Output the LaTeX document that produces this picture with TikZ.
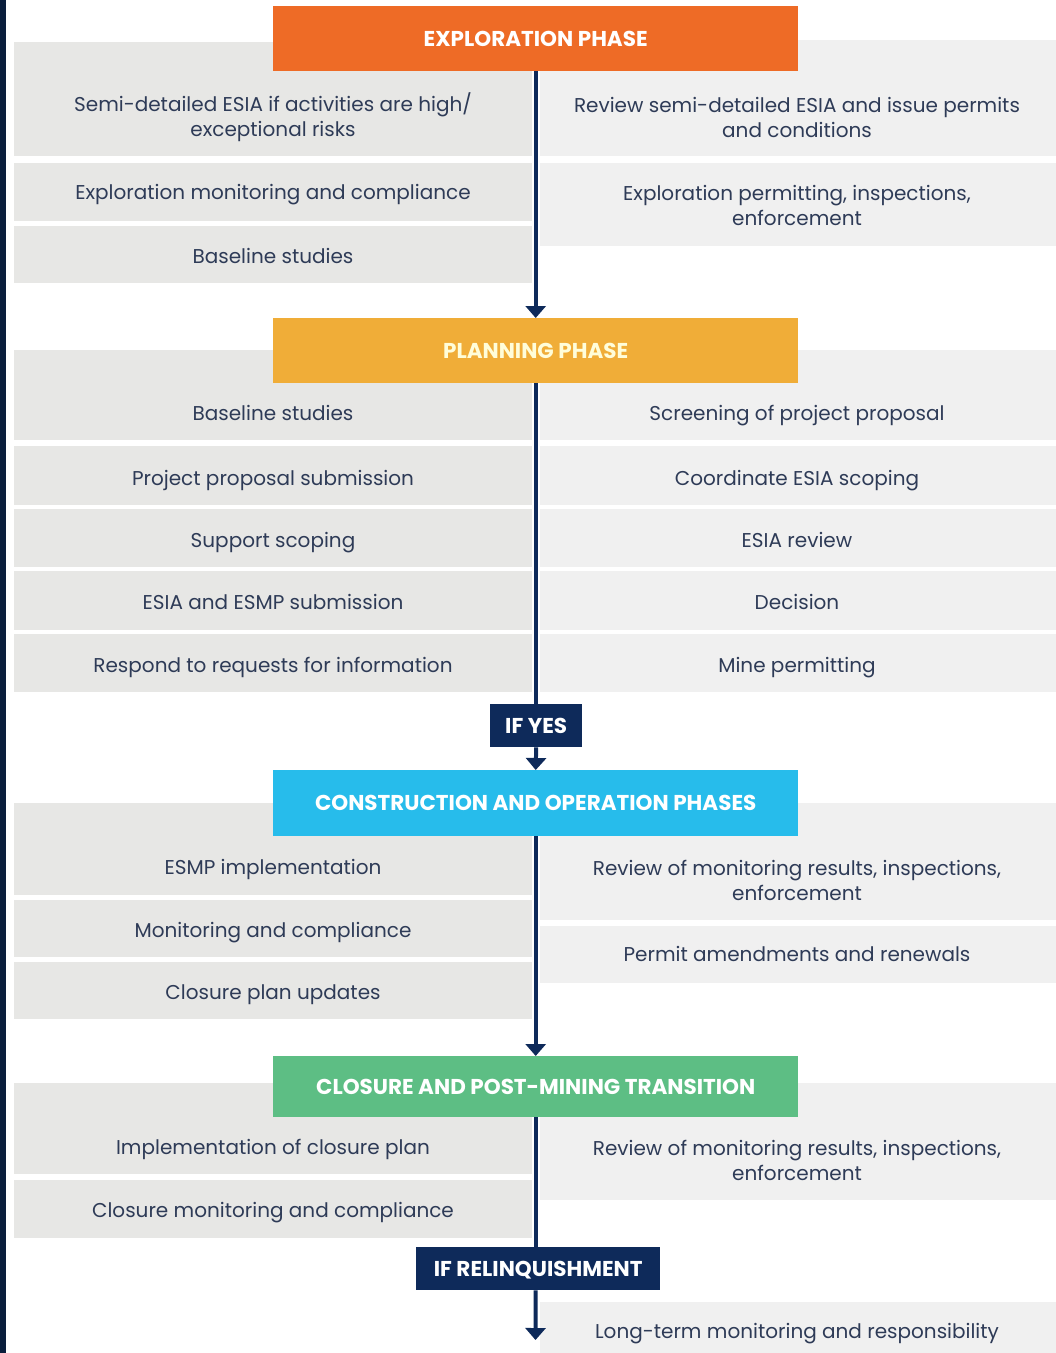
\documentclass[tikz,border=0pt]{standalone}
\usepackage{fontspec}
\setmainfont{Poppins}
\usetikzlibrary{arrows.meta}
\definecolor{navy}{HTML}{0E2A5A}
\definecolor{strip}{HTML}{0A1E3C}
\definecolor{lgray}{HTML}{E7E7E5}
\definecolor{rgray}{HTML}{F0F0F0}
\definecolor{tcol}{HTML}{2E3B57}
\definecolor{corange}{HTML}{EE6B26}
\definecolor{cyellow}{HTML}{F0AD38}
\definecolor{ccyan}{HTML}{27BCEB}
\definecolor{cgreen}{HTML}{5DBE84}
\begin{document}
\begin{tikzpicture}[x=1pt,y=-1pt,
  lbox/.style={fill=lgray, inner sep=0pt, minimum width=518pt, anchor=north west},
  rbox/.style={fill=rgray, inner sep=0pt, minimum width=516pt, anchor=north west},
  hdr/.style={inner sep=0pt, minimum width=525pt, anchor=north west, text=white,
    text height=15.5pt, text depth=0pt,
    font=\fontsize{21.5}{24}\selectfont\bfseries},
  txt/.style={text=tcol, font=\fontsize{20}{25}\selectfont, align=center, inner sep=0pt},
  txtone/.style={txt, text height=14.5pt, text depth=4pt, yshift=-2pt},
  cond/.style={fill=navy, text=white, inner sep=0pt, anchor=north west,
    text height=15.5pt, text depth=0pt,
    font=\fontsize{21.5}{24}\selectfont\bfseries},
  trunk/.style={draw=navy, line width=4pt},
  flow/.style={trunk, -{Triangle[width=20pt,length=12pt]}}]
\useasboundingbox (0,0) rectangle (1056,1353);
\fill[white] (0,0) rectangle (1056,1353);
\fill[strip] (0,0) rectangle (6,1353);

% ---------- Exploration ----------
\node[lbox, minimum height=114pt] (e1) at (14,42) {};
\node[lbox, minimum height=58pt] (e2) at (14,163) {};
\node[lbox, minimum height=57pt] (e3) at (14,226) {};
\node[rbox, minimum height=116pt] (er1) at (540,40) {};
\node[rbox, minimum height=83pt] (er2) at (540,163) {};
\node[txt] (te1) at (273,117) {Semi-detailed ESIA if activities are high/\\exceptional risks};
\node[txtone] (te2) at (273,192) {Exploration monitoring and compliance};
\node[txtone] (te3) at (273,256) {Baseline studies};
\node[txt] (ter1) at (797,117) {Review semi-detailed ESIA and issue permits\\and conditions};
\node[txt] (ter2) at (797,205) {Exploration permitting, inspections,\\enforcement};

% ---------- Planning ----------
\node[lbox, minimum height=90pt] (p1) at (14,350) {};
\node[lbox, minimum height=59pt] (p2) at (14,446) {};
\node[lbox, minimum height=58pt] (p3) at (14,509) {};
\node[lbox, minimum height=59pt] (p4) at (14,571) {};
\node[lbox, minimum height=58pt] (p5) at (14,634) {};
\node[rbox, minimum height=90pt] (pr1) at (540,350) {};
\node[rbox, minimum height=59pt] (pr2) at (540,446) {};
\node[rbox, minimum height=58pt] (pr3) at (540,509) {};
\node[rbox, minimum height=59pt] (pr4) at (540,571) {};
\node[rbox, minimum height=58pt] (pr5) at (540,634) {};
\node[txtone] (tp1) at (273,413) {Baseline studies};
\node[txtone] (tp2) at (273,478) {Project proposal submission};
\node[txtone] (tp3) at (273,540) {Support scoping};
\node[txtone] (tp4) at (273,602) {ESIA and ESMP submission};
\node[txtone] (tp5) at (273,665) {Respond to requests for information};
\node[txtone] (tpr1) at (797,413) {Screening of project proposal};
\node[txtone] (tpr2) at (797,478) {Coordinate ESIA scoping};
\node[txtone] (tpr3) at (797,540) {ESIA review};
\node[txtone] (tpr4) at (797,602) {Decision};
\node[txtone] (tpr5) at (797,665) {Mine permitting};

% ---------- Construction ----------
\node[lbox, minimum height=92pt] (c1) at (14,803) {};
\node[lbox, minimum height=57pt] (c2) at (14,900) {};
\node[lbox, minimum height=57pt] (c3) at (14,962) {};
\node[rbox, minimum height=117pt] (cr1) at (540,803) {};
\node[rbox, minimum height=57pt] (cr2) at (540,926) {};
\node[txtone] (tc1) at (273,867) {ESMP implementation};
\node[txtone] (tc2) at (273,930) {Monitoring and compliance};
\node[txtone] (tc3) at (273,992) {Closure plan updates};
\node[txt] (tcr1) at (797,880) {Review of monitoring results, inspections,\\enforcement};
\node[txtone] (tcr2) at (797,954) {Permit amendments and renewals};

% ---------- Closure ----------
\node[lbox, minimum height=91pt] (k1) at (14,1083) {};
\node[lbox, minimum height=58pt] (k2) at (14,1180) {};
\node[rbox, minimum height=117pt] (kr1) at (540,1083) {};
\node[txtone] (tk1) at (273,1147) {Implementation of closure plan};
\node[txtone] (tk2) at (273,1210) {Closure monitoring and compliance};
\node[txt] (tkr1) at (797,1160) {Review of monitoring results, inspections,\\enforcement};

\node[rbox, minimum height=51pt] (lt) at (540,1302) {};
\node[txtone] (tlt) at (797,1331) {Long-term monitoring and responsibility};

% ---------- Headers ----------
\node[hdr, fill=corange, minimum height=65pt] (h1) at (273,6) {EXPLORATION PHASE};
\node[hdr, fill=cyellow, minimum height=65pt, text=white!85!yellow] (h2) at (273,318) {PLANNING PHASE};
\node[hdr, fill=ccyan, minimum height=66pt] (h3) at (273,770) {CONSTRUCTION AND OPERATION PHASES};
\node[hdr, fill=cgreen, minimum height=61pt] (h4) at (273,1056) {CLOSURE AND POST-MINING TRANSITION};

% ---------- Trunk ----------
\draw[flow] (h1.south) -- (h2.north);
\draw[trunk] (h2.south) -- ++(0,321) coordinate (yestop);
\draw[flow] (h3.south) -- (h4.north);
\draw[trunk] (h4.south) -- ++(0,130) coordinate (reltop);
\coordinate (endpt) at (535.5,1340);

\node[cond, minimum width=92pt, minimum height=43pt] (ify) at (490,704) {IF YES};
\node[cond, minimum width=244pt, minimum height=43pt] (rel) at (416,1247) {IF RELINQUISHMENT};
\draw[flow] (ify.south) -- (h3.north);
\draw[flow] (rel.south -| h4.south) -- (endpt);
\end{tikzpicture}
\end{document}
